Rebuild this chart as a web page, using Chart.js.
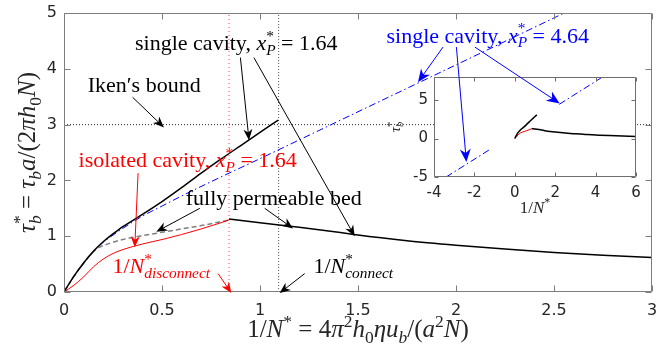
<!DOCTYPE html>
<html><head><meta charset="utf-8">
<script src="https://cdn.jsdelivr.net/npm/chart.js@4"></script>
<style>
html,body{margin:0;padding:0;background:#fff;}
#wrap{position:relative;width:657px;height:344px;}
canvas{position:absolute;left:0;top:0;}
#inset{pointer-events:none;}
</style></head><body>
<div id="wrap"><canvas id="main" width="657" height="344"></canvas><canvas id="inset" width="657" height="344"></canvas></div>
<script>
// ---------------- data ----------------
const singleCavityX = [0,0.05,0.1,0.15,0.2,0.25,0.3,0.4,0.5,0.6,0.7,0.8,0.9,1.0,1.093];
const singleCavityY = [0,0.28,0.52,0.73,0.9,1.04,1.17,1.39,1.62,1.87,2.13,2.38,2.62,2.86,3.08];

const singleCavity464X = [0,0.05,0.1,0.15,0.2,0.25,0.3,0.4,0.5,0.6,0.8,1.0,1.5,2.0,2.6];
const singleCavity464Y = [0,0.27,0.51,0.72,0.89,1.02,1.14,1.36,1.54,1.72,2.06,2.39,3.23,4.07,5.08];

const isolatedX = [0,0.05,0.1,0.15,0.2,0.25,0.3,0.4,0.5,0.6,0.7,0.8,0.842];
const isolatedY = [0,0.12,0.27,0.45,0.59,0.69,0.76,0.86,0.94,1.03,1.13,1.24,1.29];

const permeableDisconnectedX = [0,0.05,0.1,0.15,0.18,0.25,0.3,0.4,0.5,0.6,0.7,0.842];
const permeableDisconnectedY = [0,0.28,0.52,0.72,0.8,0.89,0.94,1.01,1.07,1.13,1.19,1.29];

const permeableX = [0.842,1.0,1.2,1.4,1.5,1.75,2.0,2.25,2.5,2.75,3.0,3.5,4.0,5.0,6.0];
const permeableY = [1.31,1.24,1.16,1.07,1.02,0.92,0.84,0.77,0.71,0.66,0.62,0.53,0.45,0.35,0.28];

const insetBlueLowX = [-3.4,-1.25];
const insetBlueLowY = [-5.0,-1.45];
const insetBlueHighX = [2.2,4.4];
const insetBlueHighY = [4.45,8.1];

const ikenBound = 3;
const disconnectX = 0.842;
const connectX = 1.095;

const mainXTicks = [0,0.5,1,1.5,2,2.5,3];
const mainXTickLabels = ['0','0.5','1','1.5','2','2.5','3'];
const mainYTicks = [0,1,2,3,4,5];
const mainYTickLabels = ['0','1','2','3','4','5'];
const insetXTicks = [-4,-2,0,2,4,6];
const insetXTickLabels = ['-4','-2','0','2','4','6'];
const insetYTicks = [-5,0,5];
const insetYTickLabels = ['-5','0','5'];

// ---------------- helpers ----------------
const SERIF = '"Liberation Serif", "DejaVu Serif", serif';
const SANS = '"DejaVu Sans", sans-serif';
const pts = (xs, ys) => xs.map((x, i) => ({x, y: ys[i]}));
function line(data, color, width, dash, smooth) {
  return {data, borderColor: color, borderWidth: width, borderDash: dash || [], pointRadius: 0,
    fill: false, tension: 0, cubicInterpolationMode: smooth ? 'monotone' : 'default'};
}
function layoutRich(ctx, segs, size) {
  let x = 0, pend = 0; const items = [];
  for (const s of segs) {
    const sz = s.p ? size * 0.7 : size;
    const font = (s.i ? 'italic ' : '') + sz + 'px ' + SERIF;
    ctx.font = font;
    const w = ctx.measureText(s.t).width;
    const dy = s.p === 'sup' ? -0.42 * size : s.p === 'sub' ? 0.22 * size : 0;
    items.push({t: s.t, font, x, dy});
    if (s.stack) { pend = w; } else { x += Math.max(w, pend); pend = 0; }
  }
  return {items, width: x};
}
function drawRich(ctx, segs, x, y, size, color, align, rot) {
  const L = layoutRich(ctx, segs, size);
  ctx.save(); ctx.translate(x, y); if (rot) ctx.rotate(rot);
  const x0 = align === 'center' ? -L.width / 2 : align === 'right' ? -L.width : 0;
  ctx.fillStyle = color; ctx.textBaseline = 'alphabetic'; ctx.textAlign = 'left';
  for (const it of L.items) { ctx.font = it.font; ctx.fillText(it.t, x0 + it.x, it.dy); }
  ctx.restore();
}
function arrow(ctx, x1, y1, x2, y2, color, lw, hl, hw) {
  const a = Math.atan2(y2 - y1, x2 - x1);
  ctx.save();
  ctx.strokeStyle = color; ctx.fillStyle = color; ctx.lineWidth = lw;
  ctx.beginPath(); ctx.moveTo(x1, y1);
  ctx.lineTo(x2 - Math.cos(a) * hl * 0.6, y2 - Math.sin(a) * hl * 0.6); ctx.stroke();
  ctx.translate(x2, y2); ctx.rotate(a);
  ctx.beginPath(); ctx.moveTo(0, 0); ctx.lineTo(-hl, hw / 2); ctx.lineTo(-hl * 0.7, 0); ctx.lineTo(-hl, -hw / 2);
  ctx.closePath(); ctx.fill();
  ctx.restore();
}
function drawFrame(chart, color, tl) {
  const {ctx, chartArea: a, scales: {x, y}} = chart;
  ctx.save(); ctx.strokeStyle = color; ctx.lineWidth = 1;
  const L = Math.round(a.left) + 0.5, R = Math.round(a.right) - 0.5, T = Math.round(a.top) + 0.5, B = Math.round(a.bottom) - 0.5;
  ctx.beginPath();
  ctx.rect(L, T, R - L, B - T);
  for (const t of x.ticks) { const p = Math.round(x.getPixelForValue(t.value)) + 0.5; ctx.moveTo(p, B); ctx.lineTo(p, B - tl); ctx.moveTo(p, T); ctx.lineTo(p, T + tl); }
  for (const t of y.ticks) { const p = Math.round(y.getPixelForValue(t.value)) + 0.5; ctx.moveTo(L, p); ctx.lineTo(L + tl, p); ctx.moveTo(R, p); ctx.lineTo(R - tl, p); }
  ctx.stroke(); ctx.restore();
}
function tickScale(min, max, ticks, labels, size, pad, fitKey, fitVal) {
  return {type: 'linear', min, max,
    afterBuildTicks: s => { s.ticks = ticks.map(v => ({value: v})); },
    afterFit: s => { s[fitKey] = fitVal; s.paddingLeft = 0; s.paddingRight = 0; s.paddingTop = 0; s.paddingBottom = 0; },
    ticks: {autoSkip: false, maxRotation: 0, color: '#262626', padding: pad,
      font: {family: SANS, size}, callback: (v, i) => labels[i]},
    grid: {display: false, drawTicks: false}, border: {display: false}};
}

// ---------------- annotation text ----------------
const EQ = ' = ';
const xP = v => [{t: 'x', i: true}, {t: '*', p: 'sup', stack: true}, {t: 'P', i: true, p: 'sub'}, {t: EQ + v}];
const annBlack = [
  {segs: [{t: 'single cavity, '}, ...xP('1.64')], at: [0.879, 4.33], color: '#000'},
  {segs: [{t: 'Iken\u2032s bound'}], at: [0.409, 3.58], color: '#000'},
  {segs: [{t: 'fully permeable bed'}], at: [1.07, 1.56], color: '#000'},
  {segs: [{t: 'isolated cavity, '}, ...xP('1.64')], at: [0.631, 2.24], color: '#ff0000'},
  {segs: [{t: '1/'}, {t: 'N', i: true}, {t: '*', p: 'sup', stack: true}, {t: 'disconnect', i: true, p: 'sub'}], at: [0.496, 0.34], color: '#ff0000'},
  {segs: [{t: '1/'}, {t: 'N', i: true}, {t: '*', p: 'sup', stack: true}, {t: 'connect', i: true, p: 'sub'}], at: [1.476, 0.34], color: '#000'}
];
const arrowsMain = [
  {from: [0.35, 3.49], to: [0.51, 2.95], color: '#000'},
  {from: [0.90, 4.20], to: [0.944, 2.72], color: '#000'},
  {from: [0.969, 4.20], to: [1.483, 1.0], color: '#000'},
  {from: [0.378, 2.13], to: [0.361, 0.80], color: '#ff0000'},
  {from: [0.693, 1.50], to: [0.471, 1.08], color: '#000'},
  {from: [1.024, 1.50], to: [1.168, 1.14], color: '#000'},
  {from: [0.786, 0.33], to: [0.854, -0.02], color: '#ff0000'},
  {from: [1.228, 0.33], to: [1.10, -0.02], color: '#000'}
];
const annBlue = {segs: [{t: 'single cavity, '}, ...xP('4.64')], at: [2.162, 4.47], color: '#0000ff'};
const arrowsBlue = [
  {from: [1.934, 4.39], to: [1.806, 3.76]},
  {from: [2.002, 4.39], to: [2.053, 2.33]},
  {from: [2.096, 4.39], to: [2.529, 3.38]}
];
const ANN = 22;

const mainPlugin = {
  id: 'mainDeco',
  afterDatasetsDraw(chart) {
    drawFrame(chart, '#7d7d7d', 6);
    const {ctx, chartArea: a, scales: {x, y}} = chart;
    // axis titles
    drawRich(ctx, [{t: '1/'}, {t: 'N', i: true}, {t: '*', p: 'sup'}, {t: EQ + '4'}, {t: '\u03c0', i: true}, {t: '2', p: 'sup'},
      {t: 'h', i: true}, {t: '0', p: 'sub'}, {t: '\u03b7u', i: true}, {t: 'b', i: true, p: 'sub'}, {t: '/('}, {t: 'a', i: true},
      {t: '2', p: 'sup'}, {t: 'N', i: true}, {t: ')'}], (a.left + a.right) / 2, a.bottom + 45, 25, '#262626', 'center');
    drawRich(ctx, [{t: '\u03c4', i: true}, {t: '*', p: 'sup', stack: true}, {t: 'b', i: true, p: 'sub'}, {t: EQ},
      {t: '\u03c4', i: true}, {t: 'b', i: true, p: 'sub'}, {t: 'a', i: true}, {t: '/(2'}, {t: '\u03c0h', i: true},
      {t: '0', p: 'sub'}, {t: 'N', i: true}, {t: ')'}], a.left - 29, (a.top + a.bottom) / 2, 25, '#262626', 'center', -Math.PI / 2);
    for (const ar of arrowsMain) {
      arrow(ctx, x.getPixelForValue(ar.from[0]), y.getPixelForValue(ar.from[1]), x.getPixelForValue(ar.to[0]), y.getPixelForValue(ar.to[1]), ar.color, 1, 11, 9);
    }
    for (const an of annBlack) {
      drawRich(ctx, an.segs, x.getPixelForValue(an.at[0]), y.getPixelForValue(an.at[1]), ANN, an.color, 'center');
    }
  }
};

const mainChart = new Chart(document.getElementById('main'), {
  type: 'line',
  data: {datasets: [
    line(pts(singleCavityX, singleCavityY), '#000000', 1.5, [], true),
    line(pts(isolatedX, isolatedY), '#ff0000', 1, [], true),
    line(pts(permeableX, permeableY), '#000000', 1.5, [], true),
    line(pts(permeableDisconnectedX, permeableDisconnectedY), '#7f7f7f', 1.5, [5, 3], true),
    line(pts(singleCavity464X, singleCavity464Y), '#0000ff', 1, [7, 3, 1.5, 3], true),
    line([{x: 0, y: ikenBound}, {x: 3, y: ikenBound}], '#333333', 1, [1, 2]),
    line([{x: disconnectX, y: 0}, {x: disconnectX, y: 5}], 'rgba(255,0,0,0.75)', 1, [1, 3]),
    line([{x: connectX, y: 0}, {x: connectX, y: 5}], '#555555', 1, [1, 2])
  ]},
  options: {
    responsive: false, animation: false, events: [],
    layout: {padding: {left: 0, top: 13, right: 5, bottom: 0}},
    plugins: {legend: {display: false}, tooltip: {enabled: false}},
    scales: {
      x: tickScale(0, 3, mainXTicks, mainXTickLabels, 16, 9, 'height', 52),
      y: tickScale(0, 5, mainYTicks, mainYTickLabels, 16, 7, 'width', 64)
    }
  },
  plugins: [mainPlugin]
});

const insetPlugin = {
  id: 'insetDeco',
  beforeDatasetsDraw(chart) {
    const {ctx, chartArea: a} = chart;
    ctx.save(); ctx.fillStyle = '#ffffff'; ctx.fillRect(a.left, a.top, a.right - a.left, a.bottom - a.top); ctx.restore();
  },
  afterDraw(chart) {
    drawFrame(chart, '#6e6e6e', 4);
    const {ctx, chartArea: a} = chart;
    drawRich(ctx, [{t: '1/'}, {t: 'N', i: true}, {t: '*', p: 'sup'}], (a.left + a.right) / 2, a.bottom + 36, 17, '#262626', 'center');
    drawRich(ctx, [{t: '\u03c4', i: true}, {t: '*', p: 'sup', stack: true}, {t: 'b', i: true, p: 'sub'}], a.left - 34, (a.top + a.bottom) / 2, 15, '#262626', 'center', -Math.PI / 2);
    const mx = mainChart.scales.x, my = mainChart.scales.y;
    for (const ar of arrowsBlue) {
      arrow(ctx, mx.getPixelForValue(ar.from[0]), my.getPixelForValue(ar.from[1]), mx.getPixelForValue(ar.to[0]), my.getPixelForValue(ar.to[1]), '#0000ff', 1, 13, 11);
    }
    drawRich(ctx, annBlue.segs, mx.getPixelForValue(annBlue.at[0]), my.getPixelForValue(annBlue.at[1]), ANN, annBlue.color, 'center');
  }
};

new Chart(document.getElementById('inset'), {
  type: 'line',
  data: {datasets: [
    line(pts(singleCavityX, singleCavityY), '#000000', 1.5, [], true),
    line(pts(isolatedX, isolatedY), '#ff0000', 1, [], true),
    line(pts(permeableX, permeableY), '#000000', 1.5, [], true),
    line(pts(insetBlueLowX, insetBlueLowY), '#0000ff', 1, [7, 3, 1.5, 3]),
    line(pts(insetBlueHighX, insetBlueHighY), '#0000ff', 1, [7, 3, 1.5, 3])
  ]},
  options: {
    responsive: false, animation: false, events: [],
    layout: {padding: {left: 404, top: 77, right: 21, bottom: 123}},
    plugins: {legend: {display: false}, tooltip: {enabled: false}},
    scales: {
      x: tickScale(-4, 6, insetXTicks, insetXTickLabels, 15, 7, 'height', 44),
      y: tickScale(-5, 8, insetYTicks, insetYTickLabels, 15, 6, 'width', 30)
    }
  },
  plugins: [insetPlugin]
});
</script>
</body></html>
